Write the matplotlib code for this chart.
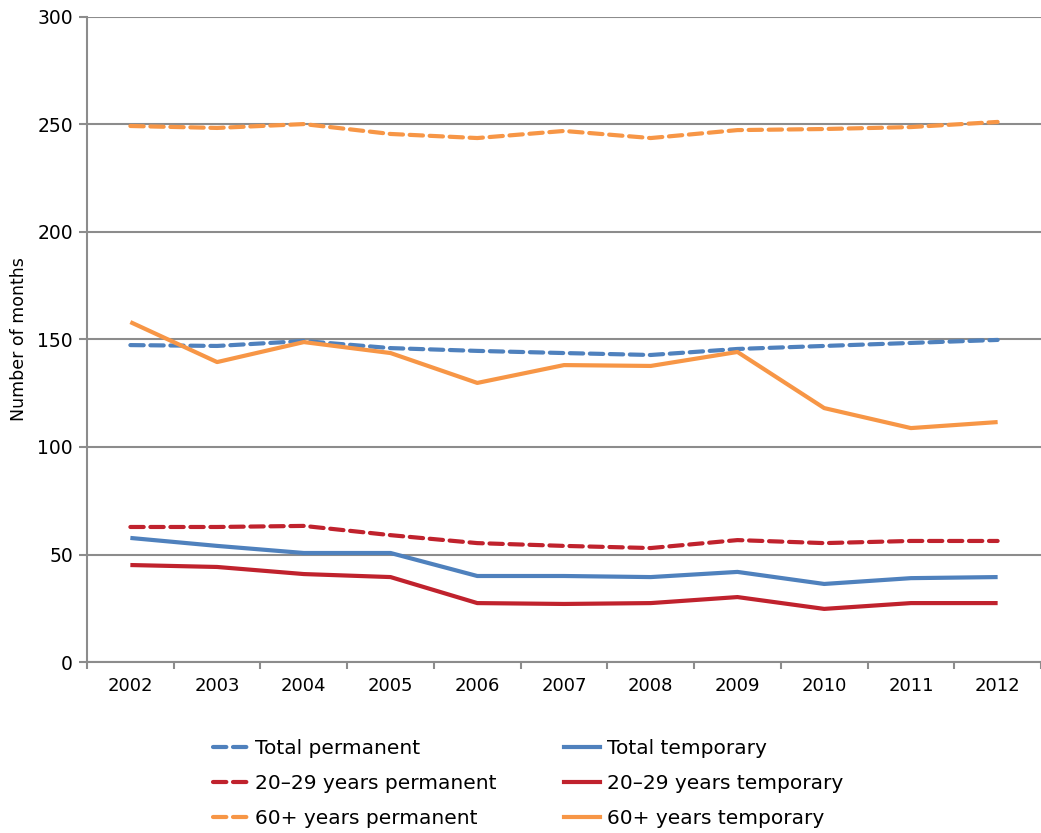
import matplotlib.pyplot as plt
from matplotlib.lines import Line2D

years = ['2002', '2003', '2004', '2005', '2006', '2007', '2008', '2009', '2010', '2011', '2012']

total_perm = [147.4, 147.0, 149.3, 146.0, 144.7, 143.7, 142.8, 145.6, 147.0, 148.4, 149.8]
total_temp = [57.7, 54.0, 50.7, 50.7, 40.0, 40.0, 39.5, 41.9, 36.3, 39.0, 39.5]
young_perm = [62.8, 62.8, 63.3, 59.0, 55.3, 54.0, 53.0, 56.7, 55.3, 56.3, 56.3]
young_temp = [45.1, 44.2, 40.9, 39.5, 27.4, 27.0, 27.4, 30.2, 24.7, 27.4, 27.4]
old_perm = [249.3, 248.4, 250.2, 245.6, 243.7, 247.0, 243.7, 247.4, 247.9, 248.8, 251.2]
old_temp = [158.1, 139.5, 148.8, 143.7, 129.8, 138.1, 137.7, 144.2, 118.1, 108.8, 111.6]

blue = '#4f81bd'
red = '#c0222d'
orange = '#f79646'
grid = '#8c8c8c'

plt.rcParams['font.family'] = ['DejaVu Sans']

fig = plt.figure(figsize=(10.41, 8.33), dpi=100)
ax = fig.add_axes([87 / 1041, 1 - 662 / 833, (1041 - 87) / 1041, (662 - 17) / 833])

x = list(range(len(years)))
lw = 3.0
dash = (0, (3.2, 1.6))

# permanent first, then temporary, so the legend columns match
series = [
    (total_perm, blue, dash, 'Total permanent'),
    (young_perm, red, dash, '20\u201329 years permanent'),
    (old_perm, orange, dash, '60+ years permanent'),
    (total_temp, blue, '-', 'Total temporary'),
    (young_temp, red, '-', '20\u201329 years temporary'),
    (old_temp, orange, '-', '60+ years temporary'),
]

handles = []
for vals, col, ls, lab in series:
    ax.plot(x, vals, color=col, linestyle=ls, linewidth=lw, dash_capstyle='round',
            solid_capstyle='butt', zorder=3)
    handles.append(Line2D([0], [0], color=col, linestyle=ls, linewidth=lw,
                          dash_capstyle='round', label=lab))

ax.set_xlim(-0.5, len(years) - 0.5)
ax.set_ylim(0, 300)
ax.set_yticks(range(0, 301, 50))
ax.yaxis.grid(True, color=grid, linewidth=1.5)
ax.set_axisbelow(True)

ax.set_xticks(x)
ax.set_xticklabels(years, fontsize=13)
ax.set_xticks([i - 0.5 for i in range(len(years) + 1)], minor=True)
ax.tick_params(axis='x', which='major', length=0, pad=11)
ax.tick_params(axis='x', which='minor', length=5, width=1.5, color=grid, direction='out')
ax.tick_params(axis='y', length=6, width=1.5, color=grid, labelsize=13.5, pad=4)

for s in ['top', 'right']:
    ax.spines[s].set_visible(False)
for s in ['left', 'bottom']:
    ax.spines[s].set_color(grid)
    ax.spines[s].set_linewidth(1.5)

ax.set_ylabel('Number of months', fontsize=12.5, labelpad=7)

fig.legend(handles=handles, loc='lower left', bbox_to_anchor=(195 / 1041, -13 / 833),
           ncol=2, frameon=False, fontsize=14.5, handlelength=1.75, handletextpad=0.35,
           columnspacing=3.35, labelspacing=0.78)

fig.savefig('out.png', dpi=100)
